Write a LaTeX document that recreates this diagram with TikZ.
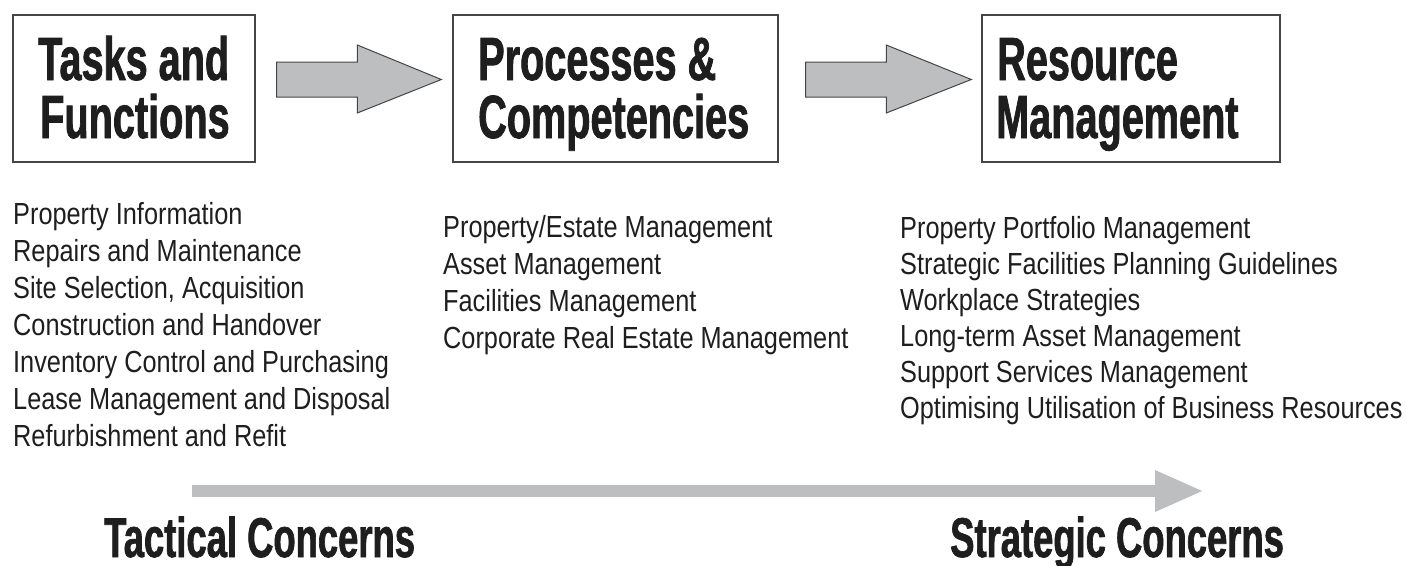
\documentclass[tikz,border=0pt]{standalone}
\usepackage{fontspec}
\newfontfamily\titlefont[FakeStretch=0.65,FakeBold=1.2]{Liberation Sans}
\newfontfamily\listfont[FakeStretch=0.83]{Liberation Sans}
\usetikzlibrary{calc,arrows.meta}
\definecolor{arrowgray}{HTML}{BCBEC0}
\definecolor{linegray}{HTML}{454545}
\definecolor{inkblack}{HTML}{1E1E1E}
\tikzset{
  box/.style={draw=linegray, line width=1.4pt, minimum height=147pt, inner sep=0pt, fill=white},
  ttl/.style={font=\titlefont\bfseries\fontsize{61}{61}\selectfont, text=inkblack, anchor=base west, inner sep=0pt},
  item/.style={font=\listfont\fontsize{30.5}{37}\selectfont, text=inkblack, anchor=base west, inner sep=0pt},
  concern/.style={font=\titlefont\bfseries\fontsize{56}{56}\selectfont, text=inkblack, anchor=base west, inner sep=0pt},
  blockarrow/.style={fill=arrowgray, draw=linegray, line width=1pt, line join=miter},
  longarrow/.style={draw=arrowgray, line width=12pt, -{Triangle[length=49pt,width=38pt]}},
}
\begin{document}
\begin{tikzpicture}[x=1pt,y=-1pt]
\useasboundingbox (0,0) rectangle (1407,565);

% boxes
\node[box, minimum width=242pt] (b1) at (134,88.5) {};
\node[box, minimum width=325pt] (b2) at (615.5,88.5) {};
\node[box, minimum width=298pt] (b3) at (1131,88.5) {};

% titles
\node[ttl] (t1a) at (38,80) {Tasks and};
\node[ttl] (t1b) at (40,138) {Functions};
\node[ttl] (t2a) at (478,80) {Processes \&};
\node[ttl] (t2b) at (478,138) {Competencies};
\node[ttl] (t3a) at (997,80) {Resource};
\node[ttl] (t3b) at (996,138) {Management};

% block arrows
\coordinate (a1s) at ($(b1.east)+(21,-9)$);
\coordinate (a1e) at ($(b2.west)+(-11,-9)$);
\draw[blockarrow] ($(a1s)+(0,-17.5)$) -- ($(a1e)+(-84,-17.5)$) -- ($(a1e)+(-84,-34.5)$)
  -- (a1e) -- ($(a1e)+(-84,33.5)$) -- ($(a1e)+(-84,17.5)$) -- ($(a1s)+(0,17.5)$) -- cycle;
\coordinate (a2s) at ($(b2.east)+(27,-9)$);
\coordinate (a2e) at ($(b3.west)+(-10,-9)$);
\draw[blockarrow] ($(a2s)+(0,-17.5)$) -- ($(a2e)+(-85,-17.5)$) -- ($(a2e)+(-85,-34.5)$)
  -- (a2e) -- ($(a2e)+(-85,33.5)$) -- ($(a2e)+(-85,17.5)$) -- ($(a2s)+(0,17.5)$) -- cycle;

% lists
\foreach \t [count=\i from 0] in {Property Information, Repairs and Maintenance, {Site Selection, Acquisition}, Construction and Handover, Inventory Control and Purchasing, Lease Management and Disposal, Refurbishment and Refit}
  \node[item] (l\i) at (13,224+37*\i) {\t};
\foreach \t [count=\i from 0] in {Property/Estate Management, Asset Management, Facilities Management, Corporate Real Estate Management}
  \node[item] (m\i) at (443,237+37*\i) {\t};
\foreach \t [count=\i from 0] in {Property Portfolio Management, Strategic Facilities Planning Guidelines, Workplace Strategies, Long-term Asset Management, Support Services Management, Optimising Utilisation of Business Resources}
  \node[item] (r\i) at (900,238+36*\i) {\t};

% long arrow
\coordinate (la) at (192,491);
\coordinate (lb) at (1204,491);
\draw[longarrow] (la) -- (lb);

% concerns
\node[concern] (c1) at (104,557) {Tactical Concerns};
\node[concern] (c2) at (950,557) {Strategic Concerns};
\end{tikzpicture}
\end{document}
